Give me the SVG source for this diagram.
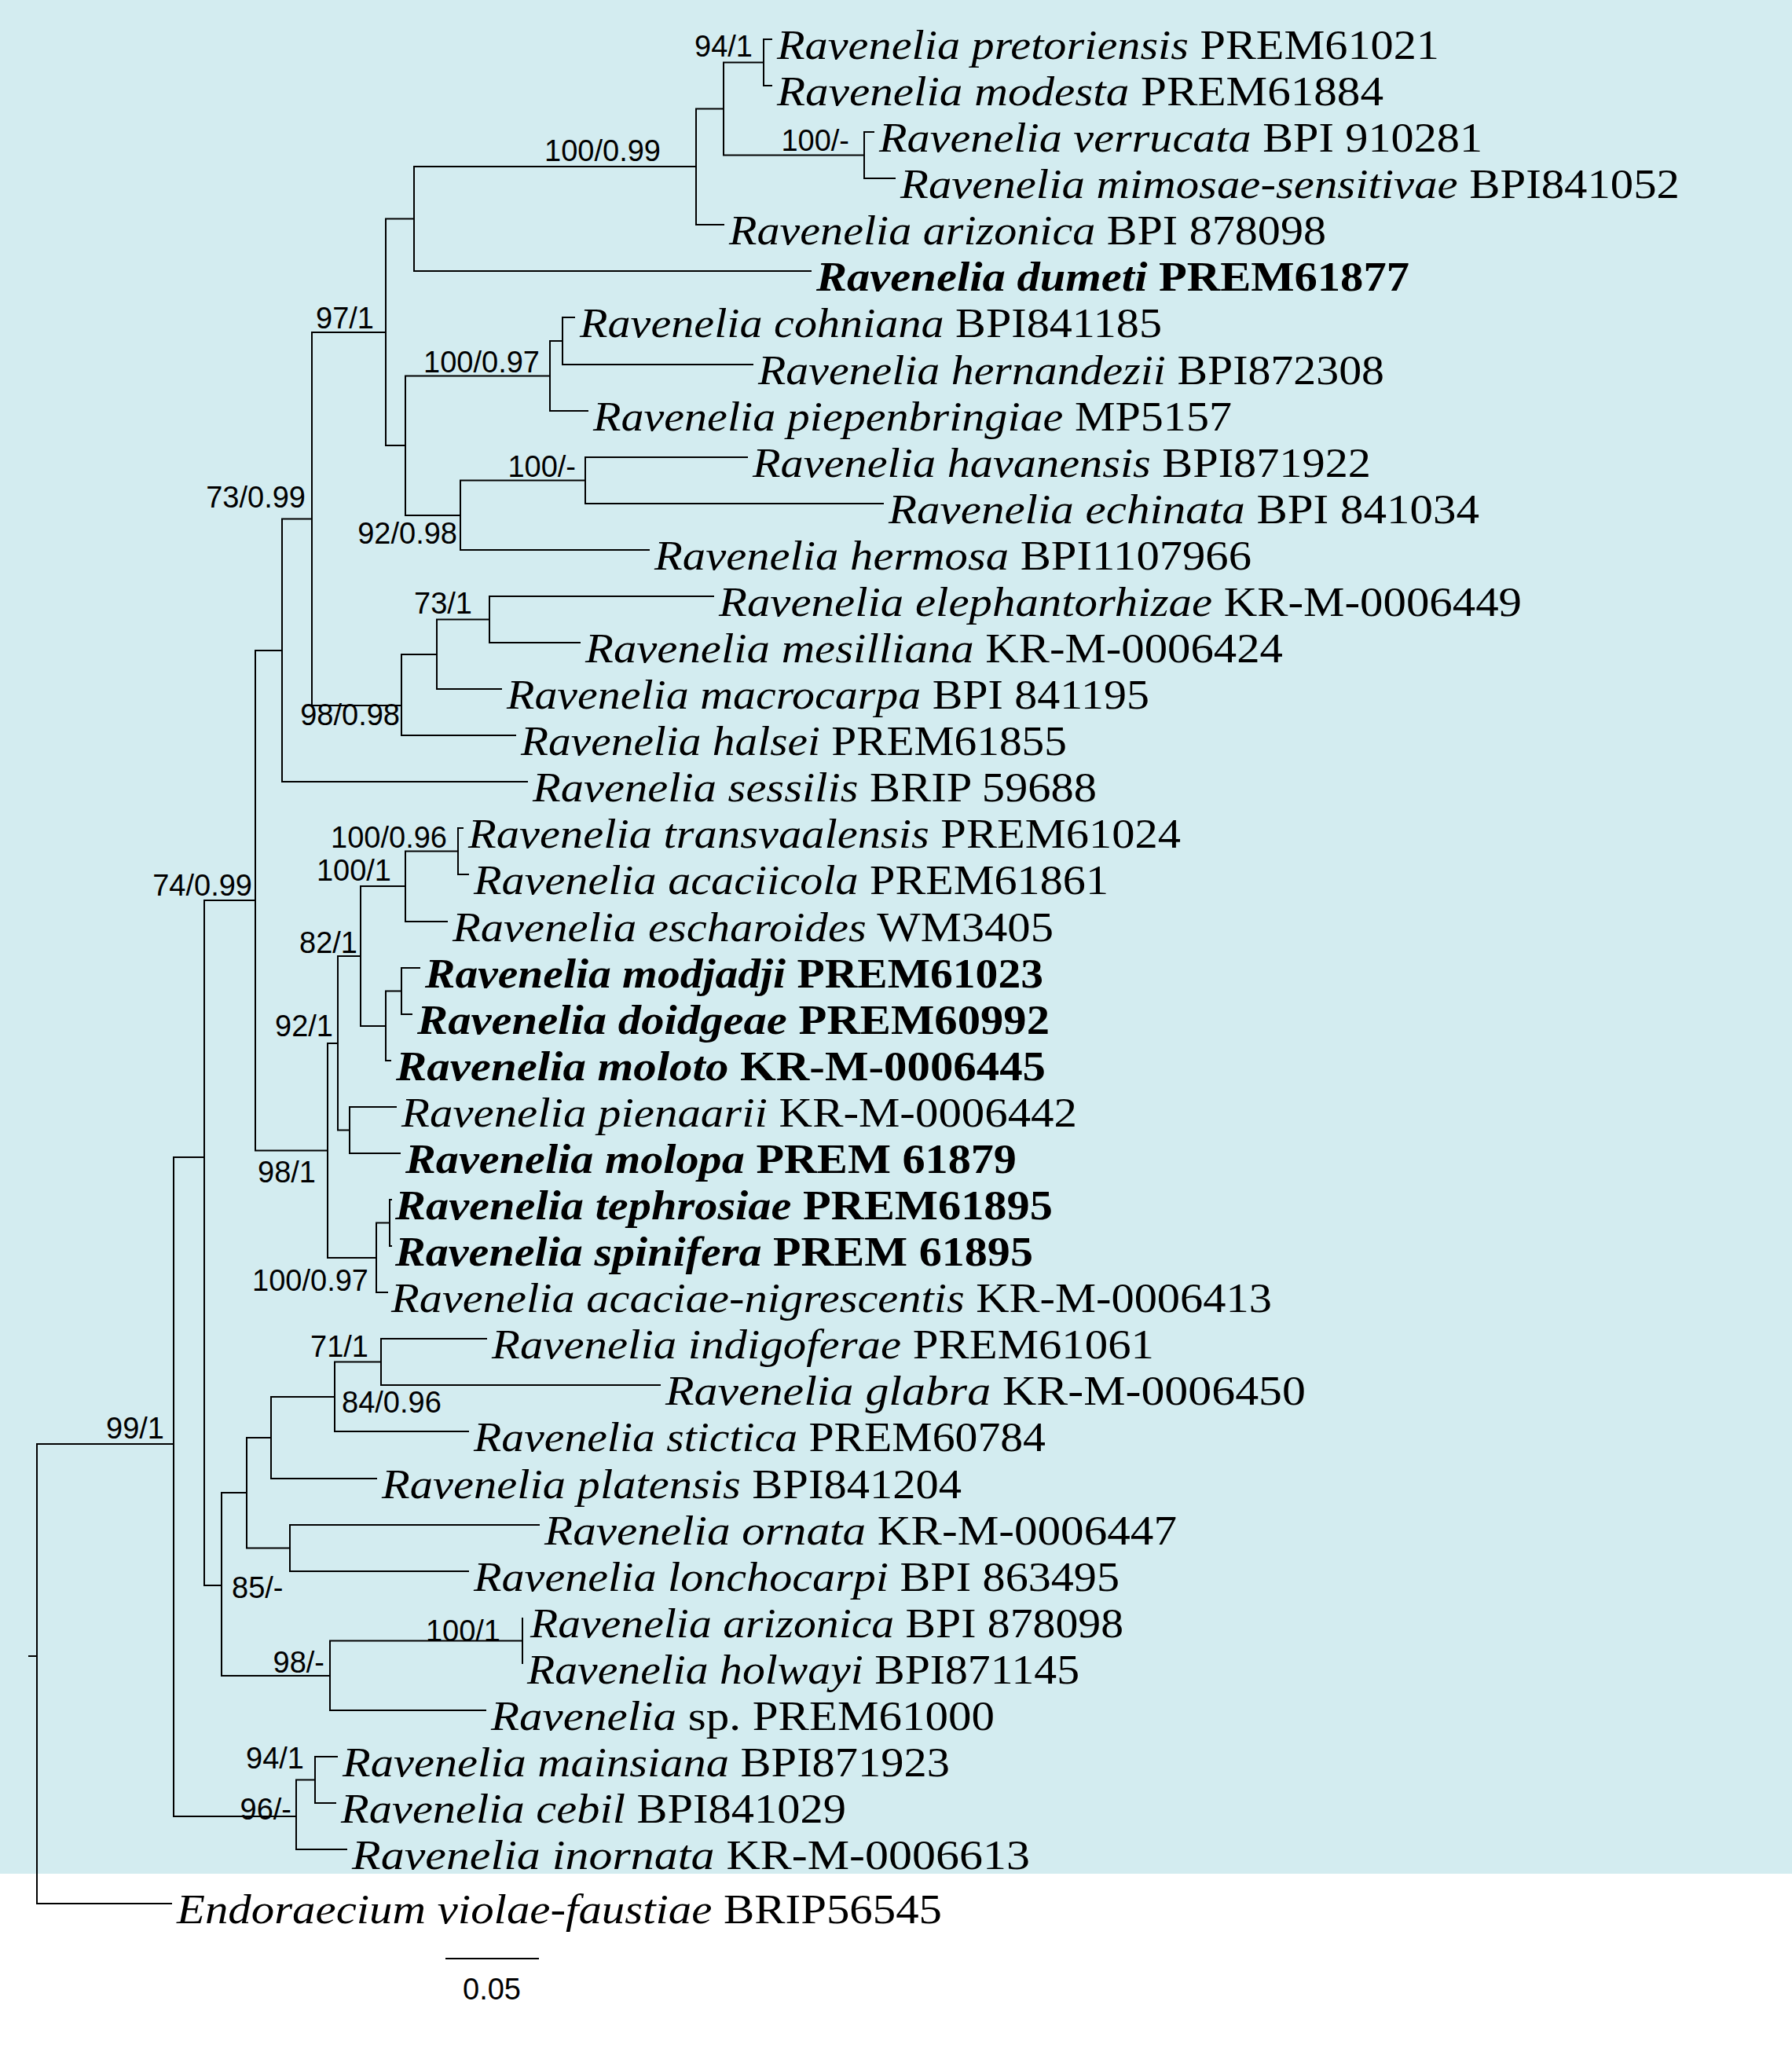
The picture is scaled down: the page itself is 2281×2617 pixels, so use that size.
<svg xmlns="http://www.w3.org/2000/svg" width="2281" height="2617" viewBox="0 0 2281 2617">
<style>
.br{fill:none;stroke:#000;stroke-width:2}
.t{font-family:"Liberation Serif","Times New Roman",serif;font-size:52px;fill:#000}
.i{font-style:italic}
.b{font-weight:bold}
.s{font-family:"Liberation Sans",Arial,sans-serif;font-size:38px;fill:#000}
.e{text-anchor:end}
</style>
<rect x="0" y="0" width="2281" height="2617" fill="#fff"/>
<rect x="0" y="0" width="2281" height="2385" fill="#d3ecf0"/>
<g id="connectors" class="br">
<path d="M983,50H972V109H983"/>
<path d="M1113,168H1100V227H1140"/>
<path d="M972,79.5H921V197.5H1100"/>
<path d="M921,138.5H886V286H922"/>
<path d="M886,212H527V345H1033"/>
<path d="M732,404H716V464H959"/>
<path d="M716,434H700V523H749"/>
<path d="M952,582H745V641H1125"/>
<path d="M745,611.5H586V700H827"/>
<path d="M700,478.5H516V656H586"/>
<path d="M527,278.5H491V567H516"/>
<path d="M909,759H623V818H739"/>
<path d="M623,788.5H556V877H639"/>
<path d="M556,833H511V936H657"/>
<path d="M491,423H397V898H511"/>
<path d="M397,660.5H359V995H672"/>
<path d="M590,1054H583V1113H597"/>
<path d="M583,1083.5H516V1173H570"/>
<path d="M535,1232H511V1291H525"/>
<path d="M511,1261.5H491V1350H498"/>
<path d="M516,1128H459V1306H491"/>
<path d="M505,1409H445V1468H510"/>
<path d="M459,1217H430V1438.5H445"/>
<path d="M499,1527H496V1586H499"/>
<path d="M496,1556.5H479V1645H494"/>
<path d="M430,1328H417V1601H479"/>
<path d="M359,828H325V1464.5H417"/>
<path d="M620,1704H485V1763H841"/>
<path d="M485,1733.5H426V1822H597"/>
<path d="M426,1778H345V1882H480"/>
<path d="M687,1941H369V2000H597"/>
<path d="M345,1830H314V1970.5H369"/>
<path d="M665,2059V2118"/>
<path d="M665,2088.5H420V2177H619"/>
<path d="M314,1900H282V2133H420"/>
<path d="M325,1146H260V2018H282"/>
<path d="M430,2236H401V2295H428"/>
<path d="M401,2265.5H377V2354H442"/>
<path d="M260,1473H221V2312H377"/>
<path d="M221,1838H47V2423H219"/>
<path d="M36,2108H47"/>
<path d="M567,2493H686"/>
</g>
<g id="supports" class="s">
<text class="e" x="958" y="72">94/1</text>
<text class="e" x="1081" y="192">100/-</text>
<text class="e" x="841" y="205">100/0.99</text>
<text class="e" x="476" y="418">97/1</text>
<text class="e" x="687" y="474">100/0.97</text>
<text class="e" x="733" y="607">100/-</text>
<text class="e" x="582" y="692">92/0.98</text>
<text class="e" x="389" y="646">73/0.99</text>
<text class="e" x="601" y="781">73/1</text>
<text class="e" x="509" y="923">98/0.98</text>
<text class="e" x="569" y="1079">100/0.96</text>
<text class="e" x="498" y="1121">100/1</text>
<text class="e" x="321" y="1140">74/0.99</text>
<text class="e" x="455" y="1213">82/1</text>
<text class="e" x="424" y="1319">92/1</text>
<text class="e" x="402" y="1505">98/1</text>
<text class="e" x="469" y="1643">100/0.97</text>
<text class="e" x="469" y="1727">71/1</text>
<text x="435" y="1798">84/0.96</text>
<text class="e" x="209" y="1831">99/1</text>
<text x="295" y="2034">85/-</text>
<text class="e" x="637" y="2089">100/1</text>
<text class="e" x="413" y="2129">98/-</text>
<text class="e" x="387" y="2251">94/1</text>
<text class="e" x="371" y="2316">96/-</text>
<text x="626" y="2545" text-anchor="middle">0.05</text>
</g>
<g id="t0"><text class="t" x="989" y="75" textLength="843" lengthAdjust="spacingAndGlyphs"><tspan class="i">Ravenelia pretoriensis</tspan> PREM61021</text></g>
<g id="t1"><text class="t" x="989" y="134" textLength="772" lengthAdjust="spacingAndGlyphs"><tspan class="i">Ravenelia modesta</tspan> PREM61884</text></g>
<g id="t2"><text class="t" x="1119" y="193" textLength="768" lengthAdjust="spacingAndGlyphs"><tspan class="i">Ravenelia verrucata</tspan> BPI 910281</text></g>
<g id="t3"><text class="t" x="1146" y="252" textLength="992" lengthAdjust="spacingAndGlyphs"><tspan class="i">Ravenelia mimosae-sensitivae</tspan> BPI841052</text></g>
<g id="t4"><text class="t" x="928" y="311" textLength="760" lengthAdjust="spacingAndGlyphs"><tspan class="i">Ravenelia arizonica</tspan> BPI 878098</text></g>
<g id="t5"><text class="t b" x="1039" y="370" textLength="755" lengthAdjust="spacingAndGlyphs"><tspan class="i">Ravenelia dumeti</tspan>  PREM61877</text></g>
<g id="t6"><text class="t" x="738" y="429" textLength="741" lengthAdjust="spacingAndGlyphs"><tspan class="i">Ravenelia cohniana</tspan> BPI841185</text></g>
<g id="t7"><text class="t" x="965" y="489" textLength="797" lengthAdjust="spacingAndGlyphs"><tspan class="i">Ravenelia hernandezii</tspan> BPI872308</text></g>
<g id="t8"><text class="t" x="755" y="548" textLength="813" lengthAdjust="spacingAndGlyphs"><tspan class="i">Ravenelia piepenbringiae</tspan> MP5157</text></g>
<g id="t9"><text class="t" x="958" y="607" textLength="787" lengthAdjust="spacingAndGlyphs"><tspan class="i">Ravenelia havanensis</tspan> BPI871922</text></g>
<g id="t10"><text class="t" x="1131" y="666" textLength="752" lengthAdjust="spacingAndGlyphs"><tspan class="i">Ravenelia echinata</tspan> BPI 841034</text></g>
<g id="t11"><text class="t" x="833" y="725" textLength="760" lengthAdjust="spacingAndGlyphs"><tspan class="i">Ravenelia hermosa</tspan> BPI1107966</text></g>
<g id="t12"><text class="t" x="915" y="784" textLength="1022" lengthAdjust="spacingAndGlyphs"><tspan class="i">Ravenelia elephantorhizae</tspan> KR-M-0006449</text></g>
<g id="t13"><text class="t" x="745" y="843" textLength="888" lengthAdjust="spacingAndGlyphs"><tspan class="i">Ravenelia mesilliana</tspan> KR-M-0006424</text></g>
<g id="t14"><text class="t" x="645" y="902" textLength="818" lengthAdjust="spacingAndGlyphs"><tspan class="i">Ravenelia macrocarpa</tspan> BPI 841195</text></g>
<g id="t15"><text class="t" x="663" y="961" textLength="695" lengthAdjust="spacingAndGlyphs"><tspan class="i">Ravenelia halsei</tspan> PREM61855</text></g>
<g id="t16"><text class="t" x="678" y="1020" textLength="718" lengthAdjust="spacingAndGlyphs"><tspan class="i">Ravenelia sessilis</tspan> BRIP 59688</text></g>
<g id="t17"><text class="t" x="596" y="1079" textLength="907" lengthAdjust="spacingAndGlyphs"><tspan class="i">Ravenelia transvaalensis</tspan> PREM61024</text></g>
<g id="t18"><text class="t" x="603" y="1138" textLength="808" lengthAdjust="spacingAndGlyphs"><tspan class="i">Ravenelia acaciicola</tspan> PREM61861</text></g>
<g id="t19"><text class="t" x="576" y="1198" textLength="765" lengthAdjust="spacingAndGlyphs"><tspan class="i">Ravenelia escharoides</tspan> WM3405</text></g>
<g id="t20"><text class="t b" x="541" y="1257" textLength="787" lengthAdjust="spacingAndGlyphs"><tspan class="i">Ravenelia modjadji</tspan> PREM61023</text></g>
<g id="t21"><text class="t b" x="531" y="1316" textLength="805" lengthAdjust="spacingAndGlyphs"><tspan class="i">Ravenelia doidgeae</tspan> PREM60992</text></g>
<g id="t22"><text class="t b" x="504" y="1375" textLength="827" lengthAdjust="spacingAndGlyphs"><tspan class="i">Ravenelia moloto</tspan> KR-M-0006445</text></g>
<g id="t23"><text class="t" x="511" y="1434" textLength="860" lengthAdjust="spacingAndGlyphs"><tspan class="i">Ravenelia pienaarii</tspan> KR-M-0006442</text></g>
<g id="t24"><text class="t b" x="516" y="1493" textLength="778" lengthAdjust="spacingAndGlyphs"><tspan class="i">Ravenelia molopa</tspan> PREM 61879</text></g>
<g id="t25"><text class="t b" x="503" y="1552" textLength="837" lengthAdjust="spacingAndGlyphs"><tspan class="i">Ravenelia tephrosiae</tspan> PREM61895</text></g>
<g id="t26"><text class="t b" x="503" y="1611" textLength="812" lengthAdjust="spacingAndGlyphs"><tspan class="i">Ravenelia spinifera</tspan> PREM 61895</text></g>
<g id="t27"><text class="t" x="498" y="1670" textLength="1121" lengthAdjust="spacingAndGlyphs"><tspan class="i">Ravenelia acaciae-nigrescentis</tspan> KR-M-0006413</text></g>
<g id="t28"><text class="t" x="626" y="1729" textLength="843" lengthAdjust="spacingAndGlyphs"><tspan class="i">Ravenelia indigoferae</tspan> PREM61061</text></g>
<g id="t29"><text class="t" x="847" y="1788" textLength="815" lengthAdjust="spacingAndGlyphs"><tspan class="i">Ravenelia glabra</tspan> KR-M-0006450</text></g>
<g id="t30"><text class="t" x="603" y="1847" textLength="728" lengthAdjust="spacingAndGlyphs"><tspan class="i">Ravenelia stictica</tspan> PREM60784</text></g>
<g id="t31"><text class="t" x="486" y="1907" textLength="738" lengthAdjust="spacingAndGlyphs"><tspan class="i">Ravenelia platensis</tspan> BPI841204</text></g>
<g id="t32"><text class="t" x="693" y="1966" textLength="805" lengthAdjust="spacingAndGlyphs"><tspan class="i">Ravenelia ornata</tspan> KR-M-0006447</text></g>
<g id="t33"><text class="t" x="603" y="2025" textLength="822" lengthAdjust="spacingAndGlyphs"><tspan class="i">Ravenelia lonchocarpi</tspan> BPI 863495</text></g>
<g id="t34"><text class="t" x="675" y="2084" textLength="755" lengthAdjust="spacingAndGlyphs"><tspan class="i">Ravenelia arizonica</tspan> BPI 878098</text></g>
<g id="t35"><text class="t" x="671" y="2143" textLength="703" lengthAdjust="spacingAndGlyphs"><tspan class="i">Ravenelia holwayi</tspan> BPI871145</text></g>
<g id="t36"><text class="t" x="625" y="2202" textLength="641" lengthAdjust="spacingAndGlyphs"><tspan class="i">Ravenelia</tspan> sp. PREM61000</text></g>
<g id="t37"><text class="t" x="436" y="2261" textLength="773" lengthAdjust="spacingAndGlyphs"><tspan class="i">Ravenelia mainsiana</tspan> BPI871923</text></g>
<g id="t38"><text class="t" x="434" y="2320" textLength="643" lengthAdjust="spacingAndGlyphs"><tspan class="i">Ravenelia cebil</tspan> BPI841029</text></g>
<g id="t39"><text class="t" x="448" y="2379" textLength="863" lengthAdjust="spacingAndGlyphs"><tspan class="i">Ravenelia inornata</tspan> KR-M-0006613</text></g>
<g id="t40"><text class="t" x="225" y="2448" textLength="974" lengthAdjust="spacingAndGlyphs"><tspan class="i">Endoraecium violae-faustiae</tspan> BRIP56545</text></g>
</svg>
